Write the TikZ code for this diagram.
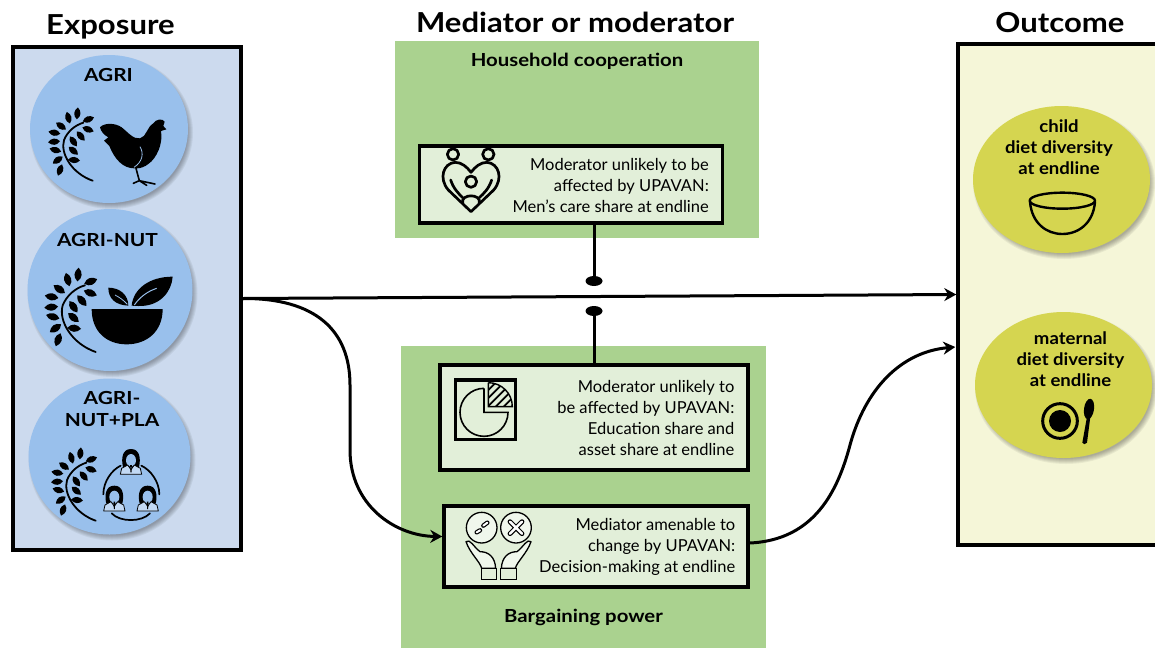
\documentclass[tikz,border=0pt]{standalone}
\usepackage{fontspec}
\setmainfont{Lato}
\newfontfamily\wideA[FakeStretch=1.13]{Lato}
\newfontfamily\wideB[FakeStretch=1.16]{Lato}
\newfontfamily\wideC[FakeStretch=1.08]{Lato}
\usetikzlibrary{arrows.meta,shapes.geometric,calc}
\definecolor{expofill}{HTML}{CCDAEE}
\definecolor{blob}{HTML}{99C0EC}
\definecolor{greenbg}{HTML}{AAD28F}
\definecolor{innerbg}{HTML}{E2EFD9}
\definecolor{outfill}{HTML}{F5F6D8}
\definecolor{yel}{HTML}{D5D550}
\tikzset{
  zf/.style 2 args={shift={(#1,#2)},x=0.33333pt,y=-0.33333pt},
  panel/.style={draw=black,line width=3.5pt,inner sep=0pt,minimum width=#1},
  greenpanel/.style={fill=greenbg,inner sep=0pt,draw=none},
  blobnode/.style={ellipse,inner sep=0pt,draw=none},
  bodytext/.style={align=right,inner sep=0pt,anchor=east,font=\fontsize{16.5}{21}\selectfont},
  greenlabel/.style={align=center,inner sep=0pt,font=\wideA\fontsize{18}{21}\selectfont\bfseries},
  bluelabel/.style={align=center,inner sep=0pt,font=\wideB\fontsize{18}{22}\selectfont\bfseries},
  yellabel/.style={align=center,inner sep=0pt,font=\wideC\fontsize{17.2}{21}\selectfont\bfseries},
  title/.style={inner sep=0pt,font=\wideA\fontsize{27.5}{30}\selectfont\bfseries},
  link/.style={draw=black,line width=3pt},
  linkarrow/.style={link,-{Stealth[length=12pt,width=13pt]}},
  icon/.style={line width=2.7pt,draw=black,line cap=round,line join=round}
}
\newcommand{\softshadow}[4]{%
  \foreach \k in {0,1,2,3,4,5}{
    \fill[black,opacity=.055] (#1+2.5,#2+3.5) ellipse ({#3+2.5-\k} and {#4+2.5-\k});
  }}
\newcommand{\lf}[3]{\fill[shift={(#1,#2)},rotate=#3] (-18,0) .. controls (-7,-13) and (7,-12) .. (18,0) .. controls (7,12) and (-7,13) .. (-18,0);}
\newcommand{\sprig}[3]{%
  \begin{scope}[shift={(#1,#2)},x=#3*0.33333pt,y=-#3*0.33333pt]
    \draw[black,line width=1.8pt,line cap=round] (0,0) .. controls (-63,-22) and (-98,-82) .. (-86,-122) .. controls (-76,-147) and (-53,-167) .. (-28,-174);
    \lf{-73}{-189}{105}\lf{-46}{-202}{85}\lf{-13}{-184}{20}
    \lf{-95}{-164}{145}\lf{-14}{-154}{-20}\lf{-115}{-144}{170}
    \lf{-36}{-134}{-50}\lf{-116}{-117}{185}\lf{-58}{-118}{-55}
    \lf{-112}{-92}{165}\lf{-58}{-90}{-40}\lf{-105}{-62}{215}
    \lf{-56}{-62}{-5}\lf{-98}{-32}{250}
  \end{scope}}
\newcommand{\woman}[2]{%
  \begin{scope}[shift={(#1,#2)}]
    \fill[black] (-24,14) .. controls (-30,-12) and (-26,-40) .. (0,-40) .. controls (26,-40) and (30,-12) .. (24,14) -- cycle;
    \fill[blob] (0,-6) ellipse (15 and 19);
    \draw[black,line width=.8pt,fill=blob!60!white,line join=round] (-32,36) -- (-28,18) -- (-10,8) -- (0,22) -- (10,8) -- (28,18) -- (32,36) -- cycle;
    \fill[black] (-2.5,8) -- (2.5,8) -- (1.5,30) -- (-1.5,30) -- cycle;
  \end{scope}}
\begin{document}
\begin{tikzpicture}[x=1pt,y=-1pt]
\useasboundingbox (0,0) rectangle (1155,648);
\fill[white] (0,0) rectangle (1155,648);
% panels
\node[panel=228pt,fill=expofill,minimum height=503pt] (expo) at (127,298.5) {};
\node[panel=215pt,fill=outfill,minimum height=501pt] (outc) at (1065.5,294.5) {};
\node[greenpanel,minimum width=364pt,minimum height=197pt] (gtop) at (577,139.5) {};
\node[greenpanel,minimum width=365pt,minimum height=302pt] (gbot) at (583.5,497) {};
\node[panel=303pt,fill=innerbg,minimum height=77pt] (mA) at (571,184.5) {};
\node[panel=308pt,fill=innerbg,minimum height=105pt] (mB) at (594,417.5) {};
\node[panel=304pt,fill=innerbg,minimum height=81pt] (mC) at (596,546.5) {};
% titles
\node[title] (t1) at (110.5,26.5) {Exposure};
\node[title] (t2) at (575,22.5) {Mediator or moderator};
\node[title] (t3) at (1060,22.5) {Outcome};
\node[greenlabel] (g1) at (577,61.5) {Household cooperation};
\node[greenlabel] (g2) at (583.5,617) {Bargaining power};
% box text
\node[bodytext] (xA) at (709,185.5) {Moderator unlikely to be\\affected by UPAVAN:\\Men’s care share at endline};
\node[bodytext] (xB) at (734.5,418) {Moderator unlikely to\\be affected by UPAVAN:\\Education share and\\asset share at endline};
\node[bodytext] (xC) at (735.5,546.5) {Mediator amenable to\\change by UPAVAN:\\Decision-making at endline};
% blue circles
\softshadow{109}{129}{79}{74}
\node[blobnode,fill=blob,minimum width=158pt,minimum height=148pt] (c1) at (109,129) {};
\softshadow{110}{290}{82.5}{81}
\node[blobnode,fill=blob,minimum width=165pt,minimum height=162pt] (c2) at (110,290) {};
\softshadow{109.5}{456.5}{81}{78}
\node[blobnode,fill=blob,minimum width=162pt,minimum height=156pt] (c3) at (109.5,456.5) {};
\node[bluelabel] (c1t) at (108.5,74.5) {AGRI};
\node[bluelabel] (c2t) at (107.5,239.5) {AGRI-NUT};
\node[bluelabel] (c3t) at (112,409) {AGRI-\\NUT+PLA};
% yellow ellipses
\softshadow{1061.5}{179.5}{88.5}{73.5}
\node[blobnode,fill=yel,minimum width=177pt,minimum height=147pt] (y1) at (1061.5,179.5) {};
\softshadow{1063.5}{385}{88.5}{73}
\node[blobnode,fill=yel,minimum width=177pt,minimum height=146pt] (y2) at (1063.5,385) {};
\node[yellabel] (y1t) at (1059,147.5) {child\\diet diversity\\at endline};
\node[yellabel] (y2t) at (1070.5,359.5) {maternal\\diet diversity\\at endline};
% sprigs
\sprig{92.7}{180.7}{1}
\sprig{95.7}{352}{1.15}
\sprig{95.7}{520.7}{1}
% chicken
\begin{scope}[zf={0}{40}]
  \fill[black] (300,262) .. controls (312,248) and (345,248) .. (365,262) .. controls (385,278) and (400,298) .. (420,295) .. controls (440,290) and (440,262) .. (460,250) .. controls (466,238) and (488,234) .. (494,245) -- (490,258) -- (499,268) -- (483,273) .. controls (490,310) and (470,355) .. (445,372) .. controls (435,380) and (422,385) .. (412,385) -- (403,385) .. controls (370,385) and (345,360) .. (328,318) -- (312,302) -- (325,292) .. controls (312,285) and (303,275) .. (300,262) -- cycle;
  \draw[black,line width=1.6pt,line cap=round,line join=round] (408,385) -- (418,422) -- (465,432) (418,422) -- (400,430) (418,422) -- (440,436);
  \draw[blob,line width=.8pt] (420,320) .. controls (432,340) and (428,365) .. (402,382);
\end{scope}
% mortar with leaves
\begin{scope}[zf={0}{205}]
  \fill[black] (275,312) -- (488,312) .. controls (488,380) and (440,418) .. (380,418) .. controls (320,418) and (275,380) .. (275,312) -- cycle;
  \fill[black] (395,302) .. controls (400,250) and (450,215) .. (518,215) .. controls (515,260) and (480,305) .. (415,303) -- cycle;
  \fill[black] (385,302) .. controls (345,300) and (325,280) .. (325,248) .. controls (360,248) and (385,270) .. (385,302) -- cycle;
  \draw[blob,line width=1pt] (403,300) .. controls (420,275) and (445,258) .. (470,250);
  \draw[blob,line width=.8pt] (382,298) .. controls (370,285) and (360,278) .. (345,270);
\end{scope}
% women circle
\begin{scope}[zf={0}{375}]
  \draw[icon,line width=1.7pt] (310,358) .. controls (310,320) and (335,285) .. (362,272);
  \draw[icon,line width=1.7pt] (424,272) .. controls (452,285) and (478,320) .. (478,358);
  \draw[icon,line width=1.7pt] (335,415) .. controls (360,442) and (425,442) .. (450,415);
  \woman{393}{262}\woman{343}{372}\woman{443}{372}
\end{scope}
% family heart
\begin{scope}[zf={410}{135}]
  \draw[icon] (129,58) circle (17) (235,58) circle (17) (183,140) circle (17);
  \draw[icon] (183,230) -- (115,165) .. controls (85,130) and (100,85) .. (135,82) .. controls (155,82) and (170,95) .. (183,112) .. controls (196,95) and (211,82) .. (231,82) .. controls (266,85) and (281,130) .. (251,165) -- cycle;
  \draw[icon] (122,135) .. controls (130,160) and (145,175) .. (158,188) (245,135) .. controls (237,160) and (222,175) .. (208,188);
  \draw[icon] (158,205) .. controls (150,175) and (216,175) .. (208,205);
\end{scope}
% pie
\begin{scope}[zf={430}{355}]
  \draw[black,line width=3.3pt] (77,75) rectangle (257,254);
  \draw[black,line width=1.6pt] (162,100) -- (162,172) -- (234,172) arc[start angle=0,end angle=270,radius=72];
  \begin{scope}
    \clip (175,83) -- (175,155) -- (247,155) arc[start angle=0,end angle=-90,radius=72] -- cycle;
    \foreach \d in {-60,-36,...,120}{\draw[black,line width=1.9pt] (175+\d,165) -- (255+\d,85);}
  \end{scope}
  \draw[black,line width=1.4pt] (175,83) -- (175,155) -- (247,155) arc[start angle=0,end angle=-90,radius=72];
\end{scope}
% hands
\begin{scope}[zf={430}{355}]
  \draw[black,line width=1.3pt,fill=white!50!innerbg] (155,518) circle (46) (258,518) circle (46);
  \draw[black,line width=4.4pt,line cap=round] (140,532) -- (150,526) (160,512) -- (172,503);
  \draw[white,line width=2pt,line cap=round] (140,532) -- (150,526) (160,512) -- (172,503);
  \draw[black,line width=4.8pt,line cap=round] (240,500) -- (276,536) (276,500) -- (240,536);
  \draw[white,line width=2.4pt,line cap=round] (240,500) -- (276,536) (276,500) -- (240,536);
  \draw[black,line width=1.3pt,fill=white!50!innerbg,line join=round] (108,560) .. controls (120,550) and (130,575) .. (150,590) .. controls (175,590) and (195,605) .. (197,640) -- (155,640) .. controls (150,620) and (120,595) .. (108,560) -- cycle;
  \draw[black,line width=1.3pt,fill=white!50!innerbg,line join=round] (303,560) .. controls (291,550) and (281,575) .. (261,590) .. controls (236,590) and (216,605) .. (214,640) -- (256,640) .. controls (261,620) and (291,595) .. (303,560) -- cycle;
  \draw[black,line width=1.3pt] (155,640) -- (155,674) -- (200,674) -- (200,640) -- cycle (212,640) -- (212,674) -- (260,674) -- (260,640) -- cycle;
\end{scope}
% bowl
\begin{scope}[zf={940}{90}]
  \draw[icon,line width=2.4pt] (367,332) ellipse (98 and 24);
  \draw[icon,line width=2.4pt] (270,335) .. controls (275,400) and (320,432) .. (367,432) .. controls (415,432) and (460,400) .. (465,335);
\end{scope}
% plate and spoon
\begin{scope}[zf={940}{300}]
  \draw[black,line width=3pt] (360,363) circle (52);
  \fill[black] (360,363) circle (33);
  \fill[black,rotate around={-8:(447,327)}] (447,327) ellipse (15 and 31);
  \fill[black] (441,350) -- (451,350) -- (441,428) .. controls (437,434) and (429,434) .. (427,428) -- cycle;
\end{scope}
% connectors
\node[ellipse,fill=black,inner sep=0pt,minimum width=17pt,minimum height=10pt] (dotU) at (594,281) {};
\node[ellipse,fill=black,inner sep=0pt,minimum width=17pt,minimum height=10pt] (dotL) at (594,311) {};
\draw[link] (mA.south -| dotU) -- (dotU);
\draw[link] (dotL) -- (mB.north -| dotL);
\draw[linkarrow] (expo.east) -- (outc.west);
\coordinate (mCin) at ($(mC.west)+(0,-10)$);
\coordinate (mCout) at ($(mC.east)+(0,-3.5)$);
\coordinate (ocin) at ($(outc.west)+(-1,52.5)$);
\draw[linkarrow] (expo.east) .. controls (315,298) and (350,330) .. (350,385) -- (350,450) .. controls (350,505) and (395,536) .. (mCin);
\draw[linkarrow] (mCout) .. controls (815,540) and (838,490) .. (850,445) .. controls (865,390) and (900,352) .. (ocin);
\end{tikzpicture}
\end{document}
